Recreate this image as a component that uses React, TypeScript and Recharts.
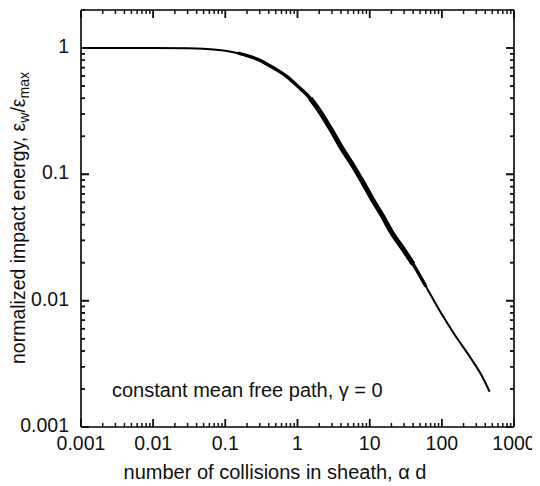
import React from 'react';
import { LineChart, Line, XAxis, YAxis } from 'recharts';

// ---- data ----
const collisions: number[] = [0.001, 0.003, 0.01, 0.03, 0.05, 0.1, 0.15, 0.2, 0.3, 0.4, 0.5, 0.7, 1, 1.5, 2, 3, 4, 6, 8, 11, 15, 20, 30, 40, 60, 100, 150, 244, 350, 460];
const impactEnergy: number[] = [1.0, 1.0, 1.0, 0.995, 0.985, 0.95, 0.91, 0.87, 0.8, 0.73, 0.68, 0.6, 0.5, 0.4, 0.32, 0.22, 0.165, 0.115, 0.087, 0.063, 0.047, 0.035, 0.025, 0.0195, 0.013, 0.0078, 0.0054, 0.0036, 0.0026, 0.0019];

const xMajor: number[] = [0.001, 0.01, 0.1, 1, 10, 100, 1000];
const xMajorLabels: string[] = ['0.001', '0.01', '0.1', '1', '10', '100', '1000'];
const yMajor: number[] = [0.001, 0.01, 0.1, 1];
const yMajorLabels: string[] = ['0.001', '0.01', '0.1', '1'];
const minorMultipliers: number[] = [2, 3, 4, 5, 6, 7, 8, 9];

const annotation = 'constant mean free path, \u03b3 = 0';
const xTitle = 'number of collisions in sheath, \u03b1 d';

// ---- derived tables ----
const decadeGroup = (m: number, max: number): number[] =>
  [m].concat(minorMultipliers.map((k) => parseFloat((m * k).toPrecision(6)))).filter((v) => v <= max);
const xGroups: number[][] = xMajor.slice(0, -1).map((m) => decadeGroup(m, 1000)).concat([[1000]]);
const yGroups: number[][] = yMajor.map((m) => decadeGroup(m, 2));

const table = collisions.map((x, i) => ({
  x,
  y: impactEnergy[i],
  yMid: x >= 0.15 && x <= 80 ? impactEnergy[i] : null,
  yThick: x >= 1.5 && x <= 40 ? impactEnergy[i] : null,
}));

const FONT = '"Liberation Sans", Arial, Helvetica, sans-serif';
const TICK_FS = 19.5;
const W = 532;
const H = 478;
const MARGIN = { top: 1, right: 25, bottom: 0, left: 0 };

const isMajor = (majors: number[], v: number) =>
  majors.findIndex((m) => Math.abs(Math.log10(m) - Math.log10(v)) < 1e-6);

// tick renderer: inward tick mark (+ label for bottom/left if labels given)
const mk = (side: string, majors: number[], labels: string[] | null) => (props: any) => {
  const x = Number(props.x);
  const y = Number(props.y);
  const v = Number(props.payload.value);
  const idx = isMajor(majors, v);
  const L = idx >= 0 ? 8 : 4;
  let d1 = '';
  if (side === 'b') d1 = `M${x},${y}V${y - L}`;
  if (side === 't') d1 = `M${x},${y}V${y + L}`;
  if (side === 'l') d1 = `M${x},${y}H${x + L}`;
  if (side === 'r') d1 = `M${x},${y}H${x - L}`;
  return (
    <g>
      <path d={d1} stroke="#111" strokeWidth={1.5} fill="none" />
      {labels && idx >= 0 && side === 'b' && (
        <text x={x} y={y + 23} textAnchor="middle" fontSize={TICK_FS} fontFamily={FONT} fill="#111">
          {labels[idx]}
        </text>
      )}
      {labels && idx >= 0 && side === 'l' && (
        <text x={x - 12} y={y + 5} textAnchor="end" fontSize={TICK_FS} fontFamily={FONT} fill="#111">
          {labels[idx]}
        </text>
      )}
    </g>
  );
};

const axisLine = { stroke: '#000', strokeWidth: 1.6 };

const tickB = mk('b', xMajor, null);
const tickT = mk('t', xMajor, null);
const tickL = mk('l', yMajor, null);
const tickR = mk('r', yMajor, null);

// one overlay chart per decade: same scales, draws only that decade's tick marks
function TickLayer({ xT, yT }: { xT: number[]; yT: number[] }) {
  return (
    <div style={{ position: 'absolute', left: 0, top: 0, pointerEvents: 'none' }}>
      <LineChart width={W} height={H} data={table} margin={MARGIN}>
        <XAxis xAxisId="bottom" dataKey="x" type="number" scale="log" domain={[0.001, 1000]} allowDataOverflow ticks={xT} interval={0}
          tickSize={0} tickMargin={0} tickLine={false} axisLine={false} height={59} tick={tickB} />
        <XAxis xAxisId="top" orientation="top" dataKey="x" type="number" scale="log" domain={[0.001, 1000]} allowDataOverflow ticks={xT} interval={0}
          tickSize={0} tickMargin={0} tickLine={false} axisLine={false} height={1} tick={tickT} />
        <YAxis yAxisId="left" type="number" scale="log" domain={[0.001, 2]} allowDataOverflow ticks={yT} interval={0}
          tickSize={0} tickMargin={0} tickLine={false} axisLine={false} width={73} tick={tickL} />
        <YAxis yAxisId="right" orientation="right" type="number" scale="log" domain={[0.001, 2]} allowDataOverflow ticks={yT} interval={0}
          tickSize={0} tickMargin={0} tickLine={false} axisLine={false} width={1} tick={tickR} />
        <Line xAxisId="bottom" yAxisId="left" dataKey="y" stroke="#000" strokeOpacity={0} dot={false} isAnimationActive={false} />
      </LineChart>
    </div>
  );
}

export default function App() {
  return (
    <div style={{ position: 'relative', width: W, height: H, background: '#fff' }}>
      <div style={{ position: 'absolute', left: 0, top: 0 }}>
        <LineChart width={W} height={H} data={table} margin={MARGIN}>
          <XAxis xAxisId="bottom" dataKey="x" type="number" scale="log" domain={[0.001, 1000]} allowDataOverflow ticks={xMajor} interval={0}
            tickSize={0} tickMargin={0} tickLine={false} axisLine={axisLine} height={59} tick={mk('b', xMajor, xMajorLabels)} />
          <XAxis xAxisId="top" orientation="top" dataKey="x" type="number" scale="log" domain={[0.001, 1000]} allowDataOverflow ticks={xMajor} interval={0}
            tickSize={0} tickMargin={0} tickLine={false} axisLine={axisLine} height={1} tick={tickT} />
          <YAxis yAxisId="left" type="number" scale="log" domain={[0.001, 2]} allowDataOverflow ticks={yMajor} interval={0}
            tickSize={0} tickMargin={0} tickLine={false} axisLine={axisLine} width={73} tick={mk('l', yMajor, yMajorLabels)} />
          <YAxis yAxisId="right" orientation="right" type="number" scale="log" domain={[0.001, 2]} allowDataOverflow ticks={yMajor} interval={0}
            tickSize={0} tickMargin={0} tickLine={false} axisLine={axisLine} width={1} tick={tickR} />
          <Line xAxisId="bottom" yAxisId="left" dataKey="y" type="monotone" stroke="#000" strokeWidth={2} dot={false} isAnimationActive={false} />
          <Line xAxisId="bottom" yAxisId="left" dataKey="yMid" type="monotone" stroke="#000" strokeWidth={3.4} dot={false} isAnimationActive={false} />
          <Line xAxisId="bottom" yAxisId="left" dataKey="yThick" type="monotone" stroke="#000" strokeWidth={5} dot={false} isAnimationActive={false} />
          <text x={104} y={389} fontSize={20} fontFamily={FONT} fill="#111">{annotation}</text>
          <text x={267} y={471} textAnchor="middle" fontSize={20} fontFamily={FONT} fill="#111">{xTitle}</text>
          <text x={17} y={210} transform="rotate(-90, 17, 210)" textAnchor="middle" fontSize={19.5} fontFamily={FONT} fill="#111">
            normalized impact energy, {'\u03b5'}
            <tspan dy={4} fontSize={14}>w</tspan>
            <tspan dy={-4}>/{'\u03b5'}</tspan>
            <tspan dy={4} fontSize={14}>max</tspan>
          </text>
        </LineChart>
      </div>
      {xGroups.map((xT, i) => (
        <TickLayer key={i} xT={xT} yT={yGroups[i % yGroups.length]} />
      ))}
    </div>
  );
}
